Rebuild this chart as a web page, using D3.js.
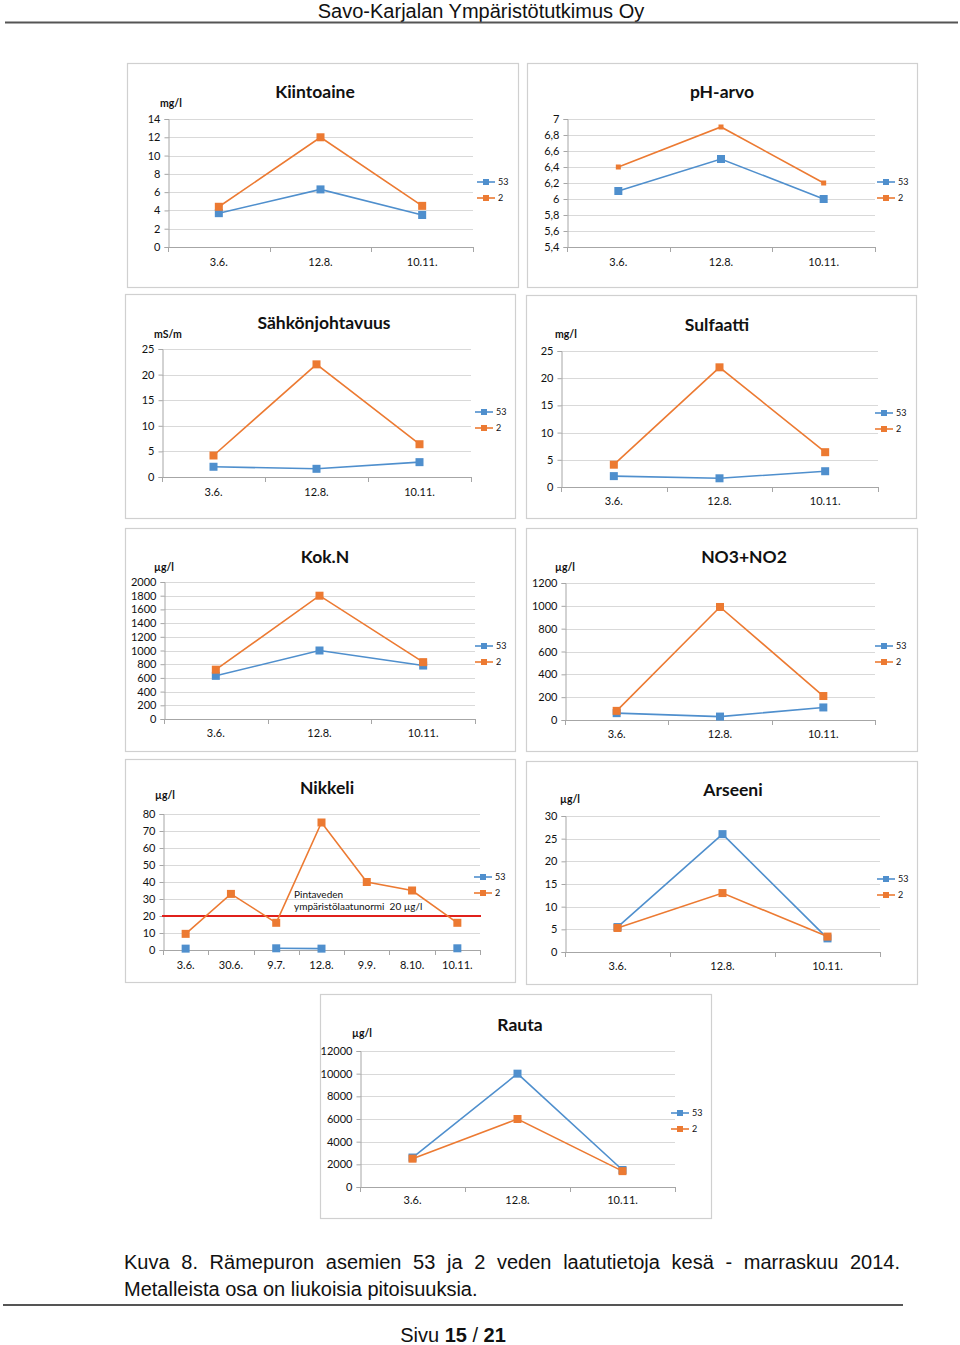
<!DOCTYPE html>
<html><head><meta charset="utf-8">
<script src="https://cdn.jsdelivr.net/npm/d3@7"></script>
<style>
body{margin:0;background:#fff;}
svg{display:block;}
</style></head>
<body>
<svg id="page" width="960" height="1345"></svg>
<script>
// ---------- DATA ----------
const dates3 = ["3.6.", "12.8.", "10.11."];
const dates7 = ["3.6.", "30.6.", "9.7.", "12.8.", "9.9.", "8.10.", "10.11."];
const seriesNames = ["53", "2"];

const kiintoaine53 = [3.7, 6.3, 3.5];
const kiintoaine2  = [4.4, 12, 4.5];
const kiintoaineTicks = [0,2,4,6,8,10,12,14];

const ph53 = [6.1, 6.5, 6.0];
const ph2  = [6.4, 6.9, 6.2];
const phTicks = [5.4,5.6,5.8,6.0,6.2,6.4,6.6,6.8,7.0];

const sahko53 = [2.0, 1.6, 2.9];
const sahko2  = [4.2, 22, 6.4];
const sahkoTicks = [0,5,10,15,20,25];

const sulfaatti53 = [2.0, 1.6, 2.9];
const sulfaatti2  = [4.1, 22, 6.4];
const sulfaattiTicks = [0,5,10,15,20,25];

const kokN53 = [630, 1000, 780];
const kokN2  = [720, 1800, 830];
const kokNTicks = [0,200,400,600,800,1000,1200,1400,1600,1800,2000];

const no3no2_53 = [60, 30, 110];
const no3no2_2  = [80, 990, 210];
const no3no2Ticks = [0,200,400,600,800,1000,1200];

const nikkeli53 = [0.8, null, 1.0, 0.8, null, null, 1.0];
const nikkeli2  = [9.5, 33, 16, 75, 40, 35, 16];
const nikkeliTicks = [0,10,20,30,40,50,60,70,80];
const nikkeliNorm = 20;
const nikkeliNormText = ["Pintaveden", "ympäristölaatunormi  20 µg/l"];

const arseeni53 = [5.5, 26, 3.0];
const arseeni2  = [5.3, 13, 3.4];
const arseeniTicks = [0,5,10,15,20,25,30];

const rauta53 = [2600, 10000, 1500];
const rauta2  = [2500, 6000, 1400];
const rautaTicks = [0,2000,4000,6000,8000,10000,12000];

// ---------- STYLE / LAYOUT ----------
const BLUE = "#4f8fcd", ORANGE = "#ec7a32";
const chartFont = "Lato, 'Open Sans', sans-serif";
const docFont = "'Liberation Sans Narrow', 'Arial Narrow', 'Liberation Sans', Arial, sans-serif";

const panels = [
  {title:"Kiintoaine", unit:"mg/l", cats:dates3, s53:kiintoaine53, s2:kiintoaine2, ticks:kiintoaineTicks,
   box:[127,63,391,224], pl:168, pr:473, pt:119, pb:247, tx:315, ty:92, ux:160, uy:103, lx:477, ly:182, xly:262, m2:8},
  {title:"pH-arvo", unit:"", cats:dates3, s53:ph53, s2:ph2, ticks:phTicks, dec:true,
   box:[527,63,390,224], pl:567, pr:875, pt:119, pb:247, tx:722, ty:92, ux:0, uy:0, lx:877, ly:182, xly:262, m2:5},
  {title:"Sähkönjohtavuus", unit:"mS/m", cats:dates3, s53:sahko53, s2:sahko2, ticks:sahkoTicks,
   box:[125,294,390,224], pl:162, pr:471, pt:349, pb:477, tx:324, ty:323, ux:154, uy:334, lx:475, ly:412, xly:492, m2:8},
  {title:"Sulfaatti", unit:"mg/l", cats:dates3, s53:sulfaatti53, s2:sulfaatti2, ticks:sulfaattiTicks,
   box:[526,295,390,223], pl:561, pr:878, pt:351, pb:487, tx:717, ty:325, ux:555, uy:334, lx:875, ly:413, xly:501, m2:8},
  {title:"Kok.N", unit:"µg/l", cats:dates3, s53:kokN53, s2:kokN2, ticks:kokNTicks,
   box:[125,528,390,223], pl:164, pr:475, pt:582, pb:719, tx:325, ty:557, ux:154, uy:567, lx:475, ly:646, xly:733, m2:8},
  {title:"NO3+NO2", unit:"µg/l", cats:dates3, s53:no3no2_53, s2:no3no2_2, ticks:no3no2Ticks,
   box:[526,528,391,223], pl:565, pr:875, pt:583, pb:720, tx:744, ty:557, ux:555, uy:567, lx:875, ly:646, xly:734, m2:8},
  {title:"Nikkeli", unit:"µg/l", cats:dates7, s53:nikkeli53, s2:nikkeli2, ticks:nikkeliTicks, norm:true,
   box:[125,759,390,223], pl:163, pr:480, pt:814, pb:950, tx:327, ty:788, ux:155, uy:795, lx:474, ly:877, xly:965, m2:8},
  {title:"Arseeni", unit:"µg/l", cats:dates3, s53:arseeni53, s2:arseeni2, ticks:arseeniTicks,
   box:[526,761,391,223], pl:565, pr:880, pt:816, pb:952, tx:733, ty:790, ux:560, uy:799, lx:877, ly:879, xly:966, m2:8},
  {title:"Rauta", unit:"µg/l", cats:dates3, s53:rauta53, s2:rauta2, ticks:rautaTicks,
   box:[320,994,391,224], pl:360, pr:675, pt:1051, pb:1187, tx:520, ty:1025, ux:352, uy:1033, lx:671, ly:1113, xly:1200, m2:8}
];

const svg = d3.select("#page");

// ---------- HEADER ----------
svg.append("text").attr("x",481).attr("y",17.5).attr("text-anchor","middle")
  .attr("font-family",docFont).attr("font-size",20).attr("fill","#111")
  .text("Savo-Karjalan Ympäristötutkimus Oy");
svg.append("line").attr("x1",5).attr("x2",958).attr("y1",22.5).attr("y2",22.5)
  .attr("stroke","#555").attr("stroke-width",2);

// ---------- PANELS ----------
const fmtDec = d => (Math.abs(d - Math.round(d)) < 1e-9) ? String(Math.round(d)) : d3.format(".1f")(d).replace(".", ",");

panels.forEach(p => {
  const g = svg.append("g");
  g.append("rect").attr("x",p.box[0]+0.5).attr("y",p.box[1]+0.5)
    .attr("width",p.box[2]).attr("height",p.box[3])
    .attr("fill","#fff").attr("stroke","#d0d0d0").attr("stroke-width",1.2);

  const ext = d3.extent(p.ticks);
  const y = d3.scaleLinear().domain(ext).range([p.pb, p.pt]);
  const x = d3.scaleBand().domain(p.cats).range([p.pl, p.pr]).padding(0);
  const cx = c => x(c) + x.bandwidth()/2;

  // gridlines
  g.append("g").selectAll("line").data(p.ticks.filter(t=>t!==ext[0])).join("line")
    .attr("x1",p.pl).attr("x2",p.pr)
    .attr("y1",d=>Math.round(y(d))+0.5).attr("y2",d=>Math.round(y(d))+0.5)
    .attr("stroke","#d9d9d9").attr("stroke-width",1);

  // y axis
  const yAxis = d3.axisLeft(y).tickValues(p.ticks).tickSize(4).tickPadding(4)
    .tickFormat(d => p.dec ? fmtDec(d) : String(d));
  const ya = g.append("g").attr("transform",`translate(${p.pl+0.5},0)`).call(yAxis);
  ya.select(".domain").attr("stroke","#a6a6a6");
  ya.selectAll(".tick line").attr("stroke","#a6a6a6");
  ya.selectAll("text").attr("font-family",chartFont).attr("font-size",11).attr("fill","#111");

  // x axis
  const xa = g.append("g").attr("transform",`translate(0,${Math.round(p.pb)+0.5})`)
    .call(d3.axisBottom(x).tickSize(0).tickPadding(0));
  xa.select(".domain").remove();
  g.append("line").attr("x1",p.pl).attr("x2",p.pr).attr("y1",Math.round(p.pb)+0.5).attr("y2",Math.round(p.pb)+0.5)
    .attr("stroke","#a6a6a6");
  const edges = p.cats.map(c=>x(c)).concat([p.pr]);
  g.append("g").selectAll("line").data(edges).join("line")
    .attr("x1",d=>Math.round(d)+0.5).attr("x2",d=>Math.round(d)+0.5)
    .attr("y1",Math.round(p.pb)).attr("y2",Math.round(p.pb)+5)
    .attr("stroke","#a6a6a6");
  xa.selectAll("text").attr("font-family",chartFont).attr("font-size",11).attr("fill","#111")
    .attr("y",p.xly - Math.round(p.pb) - 0.5).attr("dy","0.35em");

  // title & unit
  g.append("text").attr("x",p.tx).attr("y",p.ty).attr("text-anchor","middle").attr("dy","0.35em")
    .attr("font-family",chartFont).attr("font-weight","bold").attr("font-size",17.5).attr("fill","#111")
    .text(p.title);
  if (p.unit) g.append("text").attr("x",p.ux).attr("y",p.uy).attr("dy","0.35em")
    .attr("font-family",chartFont).attr("font-weight","bold").attr("font-size",10.5).attr("fill","#111")
    .text(p.unit);

  // norm line (Nikkeli)
  if (p.norm) {
    g.append("line").attr("x1",p.pl-1).attr("x2",p.pr+1).attr("y1",y(nikkeliNorm)).attr("y2",y(nikkeliNorm))
      .attr("stroke","#e0201b").attr("stroke-width",2);
    nikkeliNormText.forEach((t,i)=>{
      g.append("text").attr("x",294).attr("y",y(nikkeliNorm)-22+i*12.5).attr("dy","0.35em")
        .attr("font-family",chartFont).attr("font-size",10).attr("fill","#111")
        .attr("xml:space","preserve").style("white-space","pre").text(t);
    });
  }

  // series
  const series = [
    {name:seriesNames[0], vals:p.s53, color:BLUE, ms:8},
    {name:seriesNames[1], vals:p.s2, color:ORANGE, ms:p.m2}
  ];
  series.forEach(s=>{
    const pts = p.cats.map((c,i)=>({c, v:s.vals[i]}));
    const line = d3.line().defined(d=>d.v!==null).x(d=>cx(d.c)).y(d=>y(d.v));
    g.append("path").attr("d",line(pts)).attr("fill","none").attr("stroke",s.color).attr("stroke-width",1.6);
    g.append("g").selectAll("rect").data(pts.filter(d=>d.v!==null)).join("rect")
      .attr("x",d=>cx(d.c)-s.ms/2).attr("y",d=>y(d.v)-s.ms/2)
      .attr("width",s.ms).attr("height",s.ms).attr("fill",s.color);
  });

  // legend
  series.forEach((s,i)=>{
    const ly = p.ly + i*16;
    g.append("line").attr("x1",p.lx).attr("x2",p.lx+18).attr("y1",ly).attr("y2",ly)
      .attr("stroke",s.color).attr("stroke-width",1.6);
    g.append("rect").attr("x",p.lx+9-3).attr("y",ly-3).attr("width",6).attr("height",6).attr("fill",s.color);
    g.append("text").attr("x",p.lx+21).attr("y",ly).attr("dy","0.35em")
      .attr("font-family",chartFont).attr("font-size",9).attr("fill","#111").text(s.name);
  });
});

// ---------- CAPTION ----------
const capText = "Kuva 8. Rämepuron asemien 53 ja 2 veden laatutietoja kesä - marraskuu 2014.";
const cap1 = svg.append("text").attr("x",124).attr("y",1269)
  .attr("font-family",docFont).attr("font-size",20).attr("fill","#111")
  .text(capText);
// justify via word spacing
const natural = cap1.node().getComputedTextLength();
const gaps = capText.split(" ").length - 1;
cap1.attr("word-spacing", Math.max(0, (776 - natural) / gaps));
svg.append("text").attr("x",124).attr("y",1296)
  .attr("font-family",docFont).attr("font-size",20).attr("fill","#111")
  .text("Metalleista osa on liukoisia pitoisuuksia.");
svg.append("line").attr("x1",3).attr("x2",903).attr("y1",1305).attr("y2",1305)
  .attr("stroke","#555").attr("stroke-width",2);
const sivu = svg.append("text").attr("x",453).attr("y",1342).attr("text-anchor","middle")
  .attr("font-family",docFont).attr("font-size",20).attr("fill","#111");
sivu.append("tspan").text("Sivu ");
sivu.append("tspan").attr("font-weight","bold").text("15");
sivu.append("tspan").text(" / ");
sivu.append("tspan").attr("font-weight","bold").text("21");
</script>
</body></html>
